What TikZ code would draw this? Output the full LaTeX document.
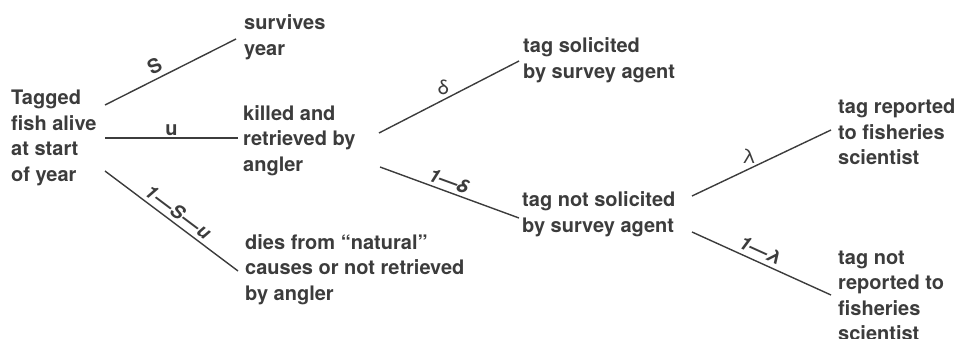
\documentclass[tikz,border=0pt]{standalone}
\usepackage{fontspec}
\setmainfont{TeX Gyre Heros}
\definecolor{ink}{HTML}{3C3C3C}
\tikzset{
  txt/.style={anchor=west, align=left, inner sep=0pt, text=ink,
    font=\fontsize{20}{25.5}\selectfont\bfseries},
  branch/.style={draw=ink, line width=1.4pt},
  lab/.style={text=ink, inner sep=1pt, font=\fontsize{20}{20}\selectfont\bfseries},
  ilab/.style={text=ink, inner sep=1pt, font=\fontsize{19}{19}\selectfont\bfseries\itshape}
}
\begin{document}
\begin{tikzpicture}[x=1pt,y=-1pt]
\useasboundingbox (0,0) rectangle (966,339);
% text nodes
\node[txt] (start) at (11,138) {Tagged\\fish alive\\at start\\of year};
\node[txt] (surv) at (244,37) {survives\\year};
\node[txt] (kill) at (243,140.5) {killed and\\retrieved by\\angler};
\node[txt] (dies) at (245,269.5) {dies from “natural”\\causes or not retrieved\\by angler};
\node[txt] (sol) at (523,60) {tag solicited\\by survey agent};
\node[txt] (nsol) at (522,214) {tag not solicited\\by survey agent};
\node[txt] (rep) at (838,132) {tag reported\\to fisheries\\scientist};
\node[txt] (nrep) at (838,296) {tag not\\reported to\\fisheries\\scientist};
% connector end points
\coordinate (sA) at (105,105);
\coordinate (sB) at (105,138);
\coordinate (sC) at (105,171);
\coordinate (eS) at (236,39);
\coordinate (eU) at (238,138);
\coordinate (eD) at (238,271);
\coordinate (kA) at (379,133);
\coordinate (kB) at (380,167);
\coordinate (eSol) at (519,61);
\coordinate (eNsol) at (519,218);
\coordinate (nA) at (692,196);
\coordinate (nB) at (692,232);
\coordinate (eRep) at (831,130);
\coordinate (eNrep) at (831,295);
% connectors
\draw[branch] (sA) -- node[lab, pos=0.42, above=3pt, sloped] (lS) {S} (eS);
\draw[branch] (sB) -- node[lab, pos=0.5, above=1pt] (lU) {u} (eU);
\draw[branch] (sC) -- node[ilab, pos=0.5, above=2.5pt, sloped] (lD) {1\kern1pt—\kern1ptS\kern1pt—\kern1ptu} (eD);
\draw[branch] (kA) -- node[lab, pos=0.46, above=3pt, font=\fontsize{20}{20}\selectfont] (ld) {δ} (eSol);
\draw[branch] (kB) -- node[ilab, pos=0.47, above=2pt, sloped] (lnd) {1—δ} (eNsol);
\draw[branch] (nA) -- node[lab, pos=0.41, above=4pt, font=\fontsize{20}{20}\selectfont] (ll) {λ} (eRep);
\draw[branch] (nB) -- node[ilab, pos=0.46, above=3pt, sloped] (lnl) {1—λ} (eNrep);
\end{tikzpicture}
\end{document}
